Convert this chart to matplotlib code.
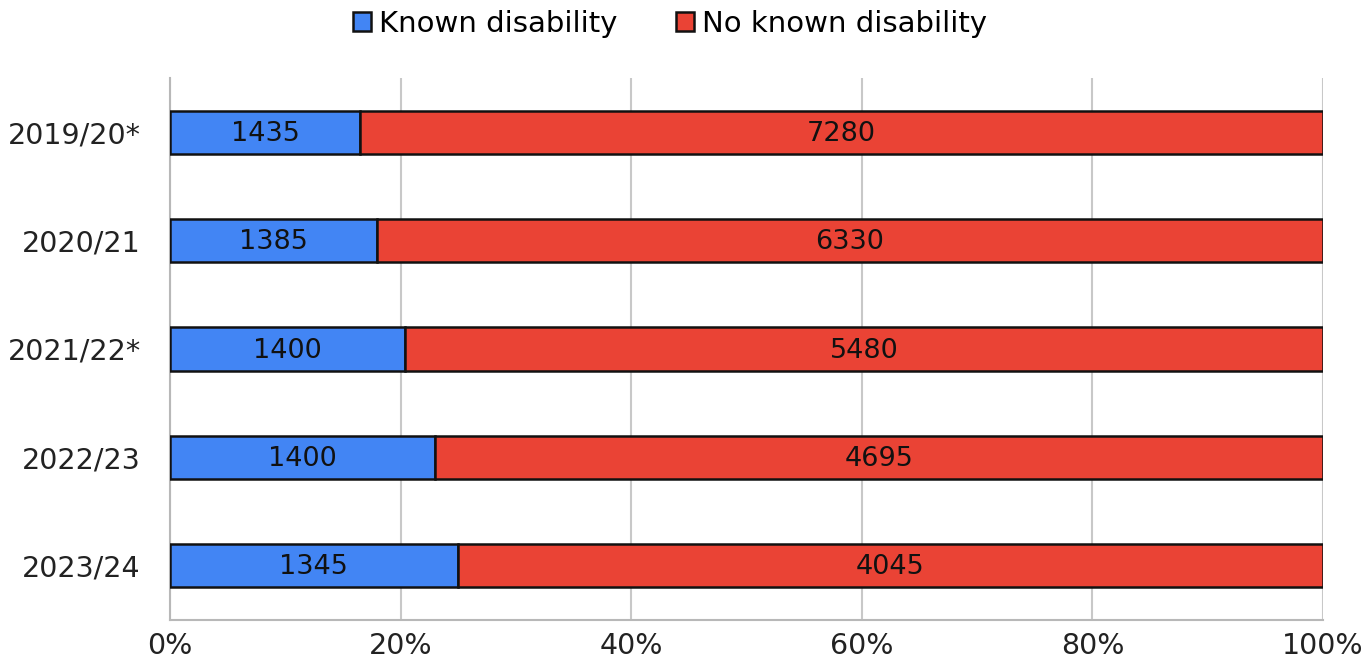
import numpy as np
import matplotlib.pyplot as plt

plt.rcParams['font.family'] = ['DejaVu Sans']

years = ['2019/20*', '2020/21', '2021/22*', '2022/23', '2023/24']
known = np.array([1435, 1385, 1400, 1400, 1345])
no_known = np.array([7280, 6330, 5480, 4695, 4045])

total = known + no_known
known_pct = known / total * 100
no_pct = no_known / total * 100

fig = plt.figure(figsize=(13.68, 6.64), dpi=100)
ax = fig.add_axes([0.1243, 0.0663, 0.8428, 0.8162])

y = np.arange(len(years))
b1 = ax.barh(y, known_pct, height=0.4, color='#4285F4', edgecolor='#111111',
             linewidth=1.8, label='Known disability', zorder=3)
b2 = ax.barh(y, no_pct, left=known_pct, height=0.4, color='#EA4335',
             edgecolor='#111111', linewidth=1.8, label='No known disability', zorder=3)

for i in range(len(years)):
    ax.text(known_pct[i] / 2, y[i] + 0.015, str(known[i]), ha='center', va='center',
            fontsize=19.5, color='#111111', zorder=4)
    ax.text(known_pct[i] + no_pct[i] / 2, y[i] + 0.015, str(no_known[i]), ha='center',
            va='center', fontsize=19.5, color='#111111', zorder=4)

ax.set_xlim(0, 100)
ax.set_ylim(len(years) - 0.5, -0.5)
ax.set_yticks(y)
ax.set_yticklabels(years, fontsize=20.5, color='#222222')
ax.set_xticks([0, 20, 40, 60, 80, 100])
ax.set_xticklabels(['0%', '20%', '40%', '60%', '80%', '100%'], fontsize=20.5, color='#222222')
ax.tick_params(length=0, pad=9)
ax.tick_params(axis='y', pad=21)
ax.xaxis.grid(True, color='#c8c8c8', linewidth=1.5, zorder=0)
for s in ['top', 'right']:
    ax.spines[s].set_visible(False)
for s in ['left', 'bottom']:
    ax.spines[s].set_color('#b8b8b8')
    ax.spines[s].set_linewidth(1.5)

fig.legend(handles=[b1, b2], loc='upper center', bbox_to_anchor=(0.49, 1.025),
           ncol=2, frameon=False, fontsize=21, handlelength=0.6, handleheight=0.6,
           handletextpad=0.3, columnspacing=2.0)

fig.savefig('out.png', dpi=100)
